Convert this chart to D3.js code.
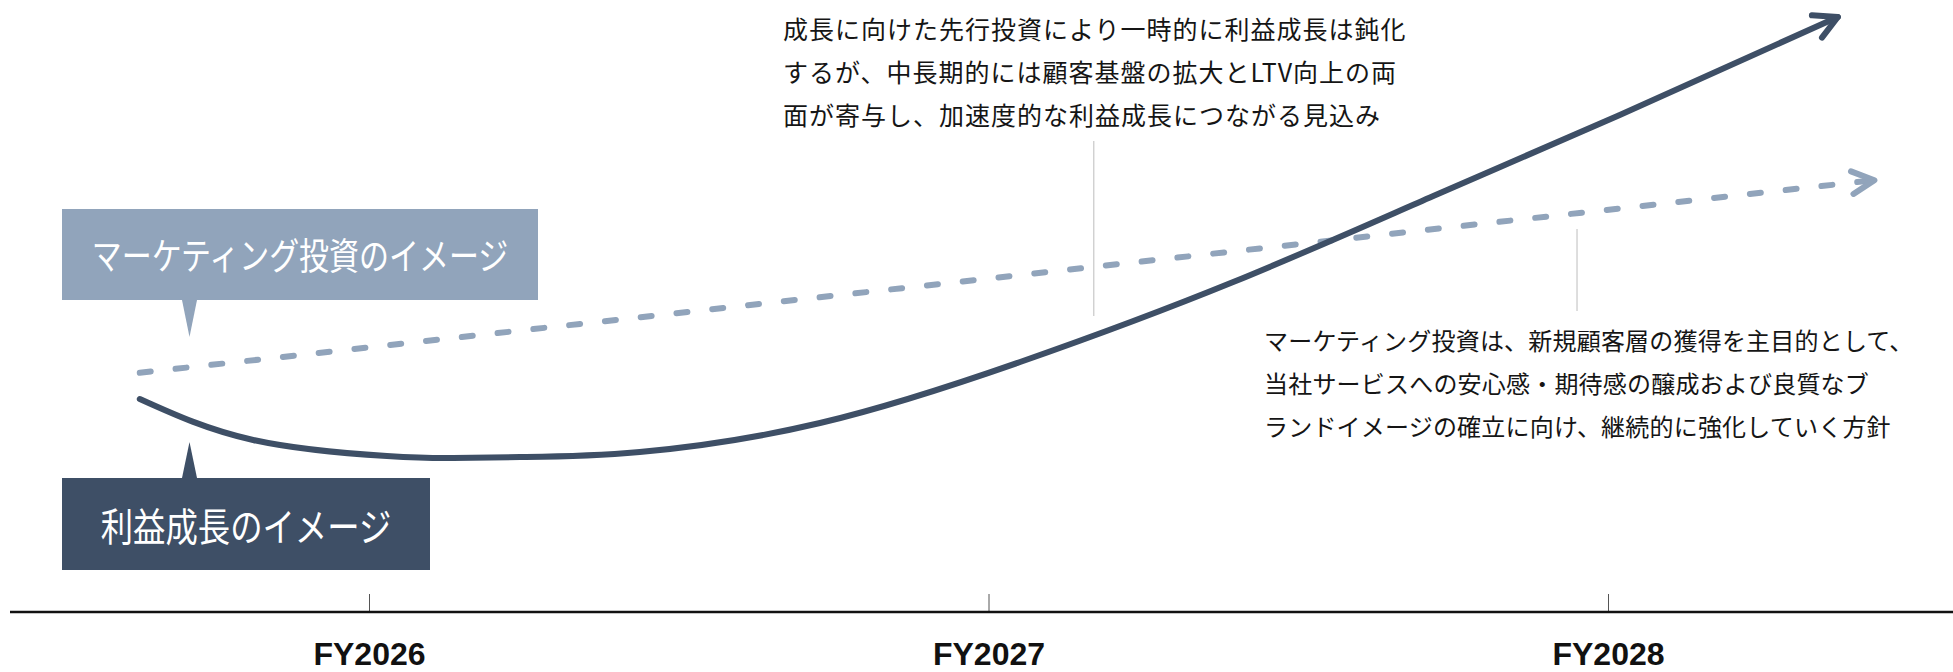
<!DOCTYPE html>
<html><head><meta charset="utf-8">
<script src="https://cdn.jsdelivr.net/npm/d3@7"></script>
<style>
html,body{margin:0;padding:0;background:#fff;}
svg{display:block;}
.jp{font-family:"Noto Sans CJK JP","Noto Sans CJK SC",sans-serif;}
</style></head>
<body>
<script>
// ---- data ----
const tickYears = [2026, 2027, 2028];
const tickLabels = ["FY2026", "FY2027", "FY2028"];
// profit growth image (solid): [fiscal year, index]
const profitX = [2025.630, 2025.813, 2026.029, 2026.136, 2026.244, 2026.437, 2026.728, 2027.051, 2027.395, 2027.718, 2028.019, 2028.371];
const profitY = [35.33, 28.5, 25.83, 25.5, 25.67, 26.5, 31.33, 41.5, 54.83, 69.17, 82.67, 99.0];
// marketing investment image (dashed)
const marketingX = [2025.63, 2028.43];
const marketingY = [39.7, 71.8];
const labelMarketing = "マーケティング投資のイメージ";
const labelProfit = "利益成長のイメージ";
const noteTop = ["成長に向けた先行投資により一時的に利益成長は鈍化",
                 "するが、中長期的には顧客基盤の拡大とLTV向上の両",
                 "面が寄与し、加速度的な利益成長につながる見込み"];
const noteBottom = ["マーケティング投資は、新規顧客層の獲得を主目的として、",
                    "当社サービスへの安心感・期待感の醸成および良質なブ",
                    "ランドイメージの確立に向け、継続的に強化していく方針"];
const noteTopLeaderX = 2027.17;
const noteBottomLeaderX = 2027.95;

// ---- chart ----
const W = 1953, H = 672;
const dark = "#3e4f66", light = "#91a4bb";
const svg = d3.select("body").append("svg").attr("width", W).attr("height", H);
const axisY = 612;
const x = d3.scaleLinear().domain([2026, 2028]).range([369, 1608]);
const y = d3.scaleLinear().domain([0, 100]).range([611, 11]);

// axis
const axis = d3.axisBottom(x).tickValues(tickYears)
  .tickFormat((d, i) => tickLabels[i]).tickSizeInner(-18).tickSizeOuter(0);
const gA = svg.append("g").attr("transform", `translate(0,${axisY})`).call(axis);
gA.select(".domain").remove();
gA.selectAll(".tick line").attr("stroke", "#555").attr("stroke-width", 1);
gA.selectAll(".tick text").attr("y", 53).attr("dy", 0)
  .attr("fill", "#111").attr("font-family", "'Liberation Sans', Arial, sans-serif")
  .attr("font-weight", "bold").attr("font-size", 32);
svg.append("line").attr("x1", 10).attr("x2", W).attr("y1", axisY).attr("y2", axisY)
  .attr("stroke", "#111").attr("stroke-width", 2.6);

// leader lines
svg.append("line").attr("x1", x(noteTopLeaderX)).attr("x2", x(noteTopLeaderX))
  .attr("y1", 141).attr("y2", 316).attr("stroke", "#bdbdbd").attr("stroke-width", 1);
svg.append("line").attr("x1", x(noteBottomLeaderX)).attr("x2", x(noteBottomLeaderX))
  .attr("y1", 229).attr("y2", 311).attr("stroke", "#bdbdbd").attr("stroke-width", 1);

function arrowHead(pts, color, len, ang, back) {
  const a = back || pts[pts.length - 2], b = pts[pts.length - 1];
  const th = Math.atan2(b[1] - a[1], b[0] - a[0]) + Math.PI;
  const r = ang * Math.PI / 180;
  const p1 = [b[0] + len * Math.cos(th - r), b[1] + len * Math.sin(th - r)];
  const p2 = [b[0] + len * Math.cos(th + r), b[1] + len * Math.sin(th + r)];
  svg.append("path").attr("d", `M${p1}L${b}L${p2}`).attr("fill", "none")
    .attr("stroke", color).attr("stroke-width", 6).attr("stroke-linecap", "round")
    .attr("stroke-linejoin", "round");
}

// dashed marketing line
const mPts = marketingX.map((d, i) => [x(d), y(marketingY[i])]);
svg.append("path").attr("d", d3.line()(mPts)).attr("fill", "none")
  .attr("stroke", light).attr("stroke-width", 6).attr("stroke-linecap", "round")
  .attr("stroke-dasharray", "11,25");
arrowHead(mPts, light, 25, 27);

// solid profit line
const pPts = profitX.map((d, i) => [x(d), y(profitY[i])]);
const pPath = svg.append("path").attr("d", d3.line().curve(d3.curveNatural)(pPts)).attr("fill", "none")
  .attr("stroke", dark).attr("stroke-width", 6).attr("stroke-linecap", "round");
const node = pPath.node(), L = node.getTotalLength();
const q = node.getPointAtLength(L - 20);
arrowHead(pPts, dark, 26, 28, [q.x, q.y]);

// label boxes
function box(x0, y0, w, h, fill, tipY, text, fs, sx) {
  const g = svg.append("g");
  g.append("rect").attr("x", x0).attr("y", y0).attr("width", w).attr("height", h).attr("fill", fill);
  const baseY = tipY > y0 ? y0 + h : y0;
  g.append("path").attr("d", `M182,${baseY}L197,${baseY}L189.5,${tipY}Z`).attr("fill", fill);
  const cx = x0 + w / 2, cy = y0 + h / 2;
  g.append("text").attr("class", "jp")
    .attr("transform", `translate(${cx},${cy}) scale(${sx},1)`)
    .attr("text-anchor", "middle").attr("dominant-baseline", "central")
    .attr("fill", "#fff").attr("font-size", fs).text(text);
}
box(62, 209, 476, 91, light, 337, labelMarketing, 37, 0.81);
box(62, 478, 368, 92, dark, 442, labelProfit, 39, 0.83);

// notes
const gT = svg.append("g");
noteTop.forEach((t, i) => {
  gT.append("text").attr("class", "jp").attr("x", 783).attr("y", 28 + i * 43)
    .attr("dominant-baseline", "central").attr("font-size", 25).attr("letter-spacing", 1)
    .attr("fill", "#151515").text(t);
});
noteBottom.forEach((t, i) => {
  gT.append("text").attr("class", "jp").attr("x", 1264).attr("y", 339 + i * 43)
    .attr("dominant-baseline", "central").attr("font-size", 24).attr("letter-spacing", 0.2)
    .attr("fill", "#151515").text(t);
});
</script>
</body></html>
